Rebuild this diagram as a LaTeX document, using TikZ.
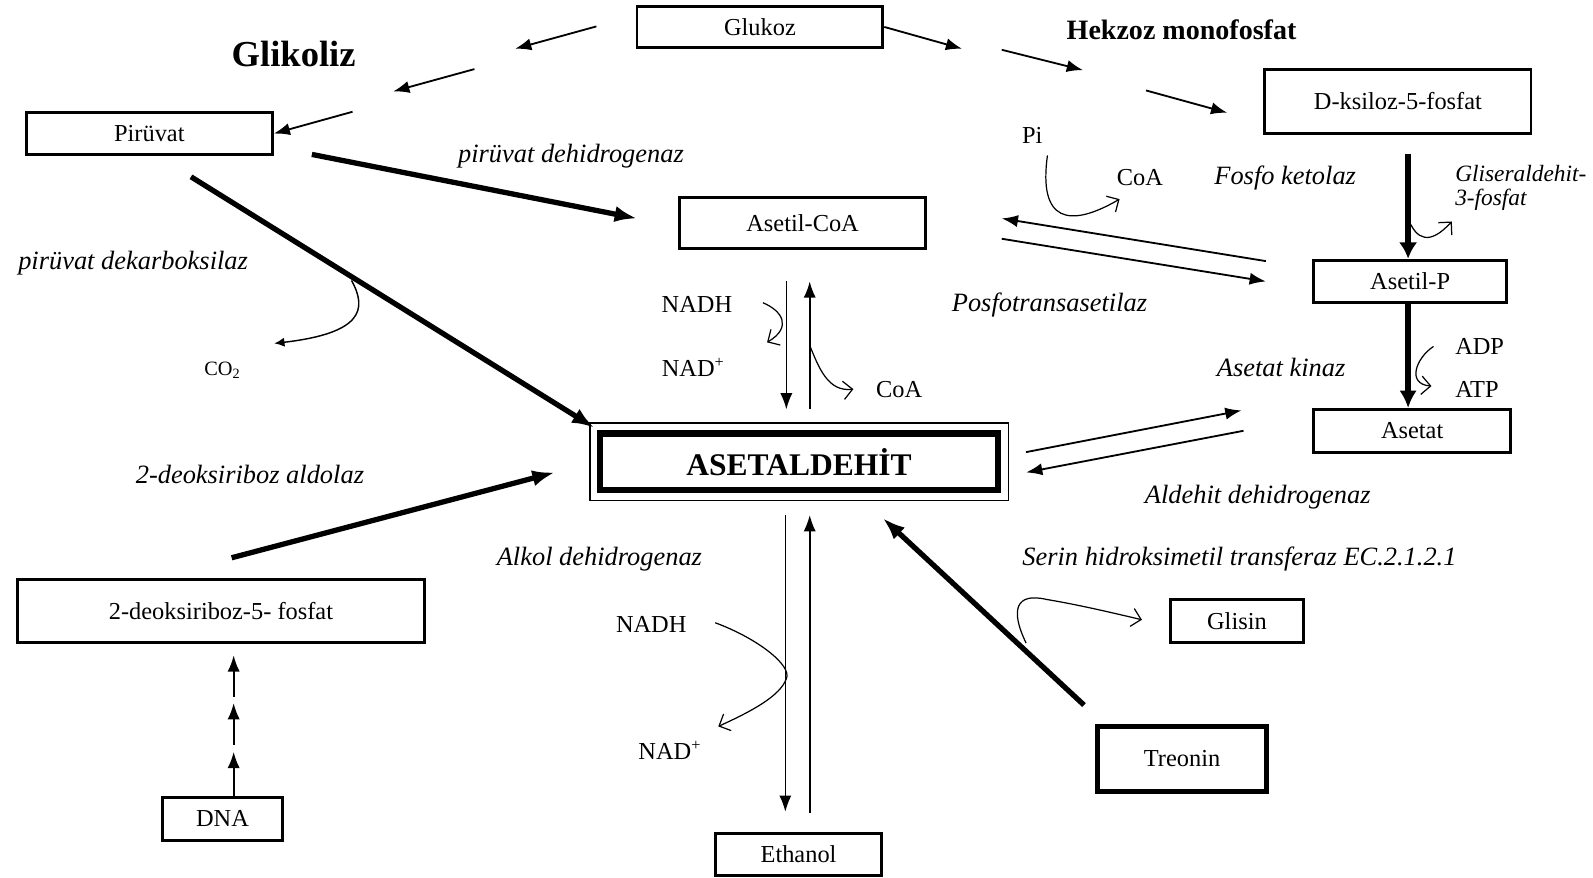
\documentclass[tikz,border=0pt]{standalone}
\usepackage{fontspec}
\setmainfont{Liberation Serif}
\usetikzlibrary{arrows.meta}

\begin{document}
\begin{tikzpicture}[x=0.5pt, y=-0.5pt,
	box/.style={draw, line width=1.4pt, inner sep=0pt, font=\fontsize{12}{14}\selectfont},
	txt/.style={inner sep=0pt, font=\fontsize{12}{14}\selectfont},
	lab/.style={inner sep=0pt, font=\fontsize{13}{15}\selectfont\itshape},
	arr/.style={-{Latex[length=8pt,width=6pt]}, line width=0.9pt},
	bigarr/.style={-{Latex[length=11pt,width=8pt]}, line width=2.6pt},
	side/.style={-{Straight Barb[length=4.5pt,width=9pt]}, line width=0.6pt}]
	\useasboundingbox (0,0) rectangle (1568,864);
	% boxes
	\node[box, minimum width=121pt, minimum height=20.5pt] (glukoz) at (748,26.5) {Glukoz};
	\node[box, minimum width=121pt, minimum height=20.5pt] (piruvat) at (147,131.5) {Pirüvat};
	\node[box, minimum width=121pt, minimum height=25.5pt] (asetilcoa) at (790,219.5) {Asetil-CoA};
	\node[box, minimum width=131pt, minimum height=31.5pt] (ksiloz) at (1376,99.5) {D-ksiloz-5-fosfat};
	\node[box, minimum width=95pt, minimum height=21pt] (asetilp) at (1388,277) {Asetil-P};
	\node[box, minimum width=97pt, minimum height=21pt] (asetat) at (1390,424) {Asetat};
	\node[box, line width=3.2pt, minimum width=196pt, minimum height=28pt,
		font=\fontsize{15.5}{18}\selectfont\bfseries] (asetaldehit) at (786.5,454.5) {ASETALDEHİT};
	\draw[line width=0.8pt] ([shift={(-3.4pt,3.4pt)}]asetaldehit.north west) rectangle ([shift={(3.4pt,-3.4pt)}]asetaldehit.south east);
	\node[box, minimum width=200.5pt, minimum height=31pt] (deoksiriboz) at (217.5,601) {2-deoksiriboz-5- fosfat};
	\node[box, minimum width=59pt, minimum height=21pt] (dna) at (219,806) {DNA};
	\node[box, minimum width=82pt, minimum height=21pt] (ethanol) at (786,841) {Ethanol};
	\node[box, minimum width=65.5pt, minimum height=21pt] (glisin) at (1217.5,611) {Glisin};
	\node[box, line width=2.5pt, minimum width=83.5pt, minimum height=32pt] (treonin) at (1163.5,747) {Treonin};
	% titles
	\node[inner sep=0pt, font=\fontsize{18}{20}\selectfont\bfseries] (glikoliz) at (289,53) {Glikoliz};
	\node[inner sep=0pt, font=\fontsize{13.8}{16}\selectfont\bfseries] (hekzoz) at (1163,29) {Hekzoz monofosfat};
	% enzymes
	\node[lab] (pdh) at (562,154) {pirüvat dehidrogenaz};
	\node[lab] (pdk) at (131,259) {pirüvat dekarboksilaz};
	\node[lab] (dra) at (246,467) {2-deoksiriboz aldolaz};
	\node[lab] (pta) at (1033,300) {Posfotransasetilaz};
	\node[lab] (fkt) at (1265,175) {Fosfo ketolaz};
	\node[lab] (ack) at (1261,362) {Asetat kinaz};
	\node[lab] (aldh) at (1238,489) {Aldehit dehidrogenaz};
	\node[lab] (adh) at (590,550) {Alkol dehidrogenaz};
	\node[lab] (shmt) at (1220,550) {Serin hidroksimetil transferaz EC.2.1.2.1};
	\node[lab, font=\fontsize{11.5}{12}\selectfont\itshape, align=left, anchor=west] (g3p) at (1432,185) {Gliseraldehit-\\3-fosfat};
	% cofactors
	\node[txt, font=\fontsize{10}{12}\selectfont] (co2) at (219,364) {CO\textsubscript{2}};
	\node[txt] (nadh1) at (686,300) {NADH};
	\node[txt, anchor=west] (nad1) at (651,362) {NAD\textsuperscript{+}};
	\node[txt] (coa1) at (885,383) {CoA};
	\node[txt] (pi) at (1016,133) {Pi};
	\node[txt] (coa2) at (1122,175) {CoA};
	\node[txt, anchor=west] (adp) at (1432,341) {ADP};
	\node[txt, anchor=west] (atp) at (1432,383) {ATP};
	\node[txt] (nadh2) at (641,615) {NADH};
	\node[txt, anchor=west] (nad2) at (628,739) {NAD\textsuperscript{+}};
	% free ends
	\coordinate (gl1) at (587,26);
	\coordinate (gl1t) at (507,48);
	\coordinate (gl2) at (467,68);
	\coordinate (gl2t) at (387,90);
	\coordinate (gl3) at (347,110);
	\coordinate (hk1t) at (947,48);
	\coordinate (hk2) at (986,49);
	\coordinate (hk2t) at (1066,69);
	\coordinate (hk3) at (1128,89);
	\coordinate (hk3t) at (1208,111);
	\coordinate (pd) at (307,152);
	\coordinate (pdt) at (627,215);
	\coordinate (pk) at (188,174);
	\coordinate (pkt) at (585,421);
	\coordinate (da) at (228,549);
	\coordinate (dat) at (546,465);
	\coordinate (tr) at (1067,694);
	\coordinate (trt) at (869,510);
	\coordinate (v1) at (774,277);
	\coordinate (v1t) at (774,403);
	\coordinate (v2) at (797,403);
	\coordinate (v2t) at (797,277);
	\coordinate (v3) at (773,507);
	\coordinate (v3t) at (773,799);
	\coordinate (v4) at (797,800);
	\coordinate (v4t) at (797,507);
	\coordinate (pt1) at (1246,257);
	\coordinate (pt1t) at (986,215);
	\coordinate (pt2) at (986,235);
	\coordinate (pt2t) at (1246,277);
	\coordinate (ak1) at (1010,445);
	\coordinate (ak1t) at (1222,404);
	\coordinate (ak2) at (1224,424);
	\coordinate (ak2t) at (1010,465);
	\coordinate (fk) at (1386,152);
	\coordinate (dn1) at (230,740);
	\coordinate (dn2) at (230,733);
	\coordinate (dn2t) at (230,692);
	\coordinate (dn3) at (230,686);
	\coordinate (dn3t) at (230,645);
	% connections
	\draw[arr] (gl1) -- (gl1t);
	\draw[arr] (gl2) -- (gl2t);
	\draw[arr] (gl3) -- (piruvat.east);
	\draw[arr] (glukoz.east) -- (hk1t);
	\draw[arr] (hk2) -- (hk2t);
	\draw[arr] (hk3) -- (hk3t);
	\draw[bigarr] (pd) -- (pdt);
	\draw[bigarr] (pk) -- (pkt);
	\draw[bigarr] (da) -- (dat);
	\draw[bigarr] (tr) -- (trt);
	\draw[-{Latex[length=8pt,width=9pt]}, line width=2.8pt] (fk) -- (fk |- asetilp.north);
	\draw[-{Latex[length=8.5pt,width=8.5pt]}, line width=2.8pt] (fk |- asetilp.south) -- (fk |- asetat.north);
	\draw[arr, line width=0.8pt] (v1) -- (v1t);
	\draw[arr, line width=0.8pt] (v2) -- (v2t);
	\draw[arr, line width=0.8pt] (v3) -- (v3t);
	\draw[arr, line width=0.8pt] (v4) -- (v4t);
	\draw[arr] (pt1) -- (pt1t);
	\draw[arr] (pt2) -- (pt2t);
	\draw[arr] (ak1) -- (ak1t);
	\draw[arr] (ak2) -- (ak2t);
	\draw[arr] (dna.north -| dn1) -- (dn1);
	\draw[arr] (dn2) -- (dn2t);
	\draw[arr] (dn3) -- (dn3t);
	% side reactions
	\coordinate (c1) at (346,276);
	\coordinate (c1t) at (270,338);
	\coordinate (n1) at (751,298);
	\coordinate (n1t) at (755,337);
	\coordinate (c2) at (797,340);
	\coordinate (c2t) at (840,383);
	\coordinate (p1) at (1031,153);
	\coordinate (p1t) at (1102,196);
	\coordinate (g1) at (1386,215);
	\coordinate (g1t) at (1429,218);
	\coordinate (a1) at (1411,341);
	\coordinate (a1t) at (1409,380);
	\coordinate (n2) at (704,613);
	\coordinate (n2t) at (707,715);
	\coordinate (s1) at (1010,633);
	\coordinate (s1t) at (1124,610);
	\draw[-{Latex[length=5pt,width=4.5pt]}, line width=0.7pt] (c1) .. controls (362,305) and (356,328) .. (c1t);
	\draw[side] (n1) .. controls (770,306) and (780,322) .. (n1t);
	\draw[side] (c2) .. controls (806,362) and (815,386) .. (c2t);
	\draw[side] (p1) .. controls (1022,218) and (1052,225) .. (p1t);
	\draw[side] (g1) .. controls (1394,236) and (1407,242) .. (g1t);
	\draw[side] (a1) .. controls (1394,352) and (1384,378) .. (a1t);
	\draw[side] (n2) .. controls (745,628) and (780,655) .. (774,668) .. controls (768,685) and (740,700) .. (n2t);
	\draw[side] (s1) .. controls (994,600) and (1000,583) .. (1030,590) .. controls (1060,595) and (1090,602) .. (s1t);
\end{tikzpicture}
\end{document}
